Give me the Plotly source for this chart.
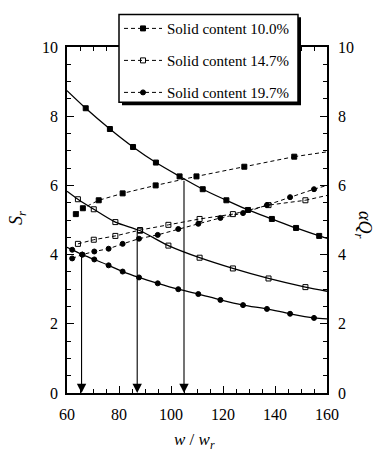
import plotly.graph_objects as go

# ---------------- data ----------------
x_range = [60, 160]
y_range = [0, 10]

# Solid content 10.0 %
sr10_x = [67.2, 76.5, 85.4, 94.2, 103.3, 112.2, 121.3, 129.6, 138.8, 148.1, 157.0]
sr10_y = [8.23, 7.63, 7.11, 6.66, 6.26, 5.89, 5.57, 5.29, 5.03, 4.77, 4.54]
sr10_ends = [8.74, 4.47]          # curve values at x = 60 and x = 160
aq10_x = [63.4, 66.1, 72.2, 81.4, 94.1, 109.8, 128.2, 147.4]
aq10_y = [5.17, 5.34, 5.57, 5.77, 6.00, 6.26, 6.54, 6.83]
aq10_end = 6.97                   # dashed line value at x = 160

# Solid content 14.7 %
c147_x = [64.2, 70.3, 78.6, 88.1, 99.0, 111.0, 123.8, 137.5, 151.7]
sr147_y = [5.60, 5.31, 4.94, 4.69, 4.26, 3.91, 3.60, 3.31, 3.06]
sr147_ends = [5.83, 2.94]
aq147_y = [4.31, 4.43, 4.54, 4.71, 4.86, 5.03, 5.17, 5.43, 5.57]
aq147_end = 5.71

# Solid content 19.7 %
c197_x = [62.0, 65.9, 70.5, 76.0, 81.4, 87.7, 94.9, 102.8, 110.5, 119.0, 127.7, 136.9, 145.8, 155.0]
sr197_y = [4.14, 4.00, 3.86, 3.69, 3.51, 3.34, 3.17, 3.00, 2.86, 2.69, 2.54, 2.43, 2.29, 2.17]
sr197_ends = [4.21, 2.14]
aq197_y = [3.89, 4.00, 4.09, 4.17, 4.31, 4.46, 4.57, 4.74, 4.89, 5.06, 5.20, 5.43, 5.66, 5.89]
aq197_end = 6.00

# intersection points marked with arrows
arrow_x = [65.6, 87.0, 105.0]
arrow_top = [4.00, 4.71, 6.18]

legend_names = ["Solid content 10.0%", "Solid content 14.7%", "Solid content 19.7%"]
x_ticks = [60, 80, 100, 120, 140, 160]
y_ticks = [0, 2, 4, 6, 8, 10]

# ---------------- styles ----------------
FONT = "Liberation Serif"
BLACK = "black"
W, H = 376, 455
ML, MR, MT, MB = 67, 49, 43, 62
PW, PH = W - ML - MR, H - MT - MB

# legend frame geometry (pixels): box drawn with a drop shadow
BOX_L, BOX_T, BOX_R, BOX_B = 119, 10, 298, 99
SHADOW = 3
LEG_ITEMS_TOP = 7.75      # top of the (frameless) plotly legend


def px_x(p):   # pixel column -> paper x
    return (p - ML) / PW


def px_y(p):   # pixel row -> paper y
    return (H - MB - p) / PH


series = [
    dict(name=legend_names[0], sx=sr10_x, sy=sr10_y, se=sr10_ends,
         qx=aq10_x, qy=aq10_y, qe=aq10_end, symbol="square", size=5),
    dict(name=legend_names[1], sx=c147_x, sy=sr147_y, se=sr147_ends,
         qx=c147_x, qy=aq147_y, qe=aq147_end, symbol="square-open", size=5),
    dict(name=legend_names[2], sx=c197_x, sy=sr197_y, se=sr197_ends,
         qx=c197_x, qy=aq197_y, qe=aq197_end, symbol="circle", size=5),
]

fig = go.Figure()
for i, s in enumerate(series):
    mk = dict(symbol=s["symbol"], size=s["size"], color=BLACK,
              line=dict(color=BLACK, width=1))
    # Sr smooth solid curve (left axis)
    fig.add_trace(go.Scatter(
        x=[x_range[0]] + s["sx"] + [x_range[1]],
        y=[s["se"][0]] + s["sy"] + [s["se"][1]],
        mode="lines", line=dict(color=BLACK, width=1.3, shape="spline", smoothing=0.8),
        showlegend=False, hoverinfo="skip"))
    fig.add_trace(go.Scatter(x=s["sx"], y=s["sy"], mode="markers", marker=mk,
                             showlegend=False))
    # alpha Qr dashed line (right axis)
    fig.add_trace(go.Scatter(
        x=s["qx"], y=s["qy"], mode="lines+markers", name=s["name"],
        line=dict(color=BLACK, width=1, dash="4px,3px"), marker=mk,
        yaxis="y2", legendgroup="g%d" % i))
    fig.add_trace(go.Scatter(
        x=[s["qx"][-1], x_range[1]], y=[s["qy"][-1], s["qe"]], mode="lines",
        line=dict(color=BLACK, width=1, dash="4px,3px"),
        yaxis="y2", showlegend=False, hoverinfo="skip"))

annotations = []
for ax_, ay_ in zip(arrow_x, arrow_top):
    annotations.append(dict(
        x=ax_, y=0, ax=ax_, ay=ay_, xref="x", yref="y", axref="x", ayref="y",
        showarrow=True, arrowhead=2, arrowsize=1.7, arrowwidth=1.1,
        arrowcolor=BLACK, standoff=0, text=""))

annotations += [
    dict(text="<i>S<sub>r</sub></i>", xref="paper", yref="paper",
         x=px_x(17), y=px_y(216), xanchor="center", yanchor="middle",
         showarrow=False, textangle=-90, font=dict(family=FONT, size=18, color=BLACK)),
    dict(text="<i>αQ<sub>r</sub></i>", xref="paper", yref="paper",
         x=px_x(363), y=px_y(222), xanchor="center", yanchor="middle",
         showarrow=False, textangle=90, font=dict(family=FONT, size=18, color=BLACK)),
    dict(text="<i>w</i> / <i>w<sub>r</sub></i>", xref="paper", yref="paper",
         x=px_x(194), y=px_y(442), xanchor="center", yanchor="middle", showarrow=False,
         font=dict(family=FONT, size=17, color=BLACK)),
]

axis_common = dict(
    showline=True, linecolor=BLACK, linewidth=1.5, ticks="inside", tickcolor=BLACK,
    tickwidth=1.2, showgrid=False, zeroline=False,
    tickfont=dict(family=FONT, size=16, color=BLACK))

legend_frame = [
    dict(type="rect", xref="paper", yref="paper", layer="above",
         x0=px_x(BOX_L + SHADOW), x1=px_x(BOX_R + SHADOW),
         y0=px_y(BOX_B + SHADOW), y1=px_y(BOX_T + SHADOW),
         fillcolor=BLACK, line=dict(width=0)),
    dict(type="rect", xref="paper", yref="paper", layer="above",
         x0=px_x(BOX_L), x1=px_x(BOX_R), y0=px_y(BOX_B), y1=px_y(BOX_T),
         fillcolor="white", line=dict(color=BLACK, width=1.5)),
]

fig.update_layout(
    width=W, height=H, margin=dict(l=ML, r=MR, t=MT, b=MB),
    paper_bgcolor="white", plot_bgcolor="white",
    font=dict(family=FONT, color=BLACK),
    xaxis=dict(range=x_range, tickvals=x_ticks, ticklen=7, mirror="ticks",
               ticklabelstandoff=6,
               minor=dict(dtick=5, ticklen=4, ticks="inside", tickcolor=BLACK, showgrid=False),
               **axis_common),
    yaxis=dict(range=y_range, tickvals=y_ticks, ticklen=7, ticklabelstandoff=4,
               minor=dict(dtick=0.5, ticklen=4, ticks="inside", tickcolor=BLACK, showgrid=False),
               **axis_common),
    yaxis2=dict(range=y_range, tickvals=y_ticks, ticklen=7, overlaying="y", side="right",
                anchor="x", ticklabelstandoff=6,
                minor=dict(dtick=0.5, ticklen=4, ticks="inside", tickcolor=BLACK, showgrid=False),
                **axis_common),
    legend=dict(x=px_x(BOX_L), xanchor="left", y=px_y(LEG_ITEMS_TOP), yanchor="top",
                bgcolor="rgba(0,0,0,0)", borderwidth=0,
                font=dict(family=FONT, size=15, color=BLACK),
                traceorder="grouped", tracegroupgap=9.5, itemwidth=38),
    annotations=annotations,
    shapes=legend_frame,
    showlegend=True,
)

fig.write_html("out.html", config={"displayModeBar": False},
               post_script="document.body.style.margin='0px';")
